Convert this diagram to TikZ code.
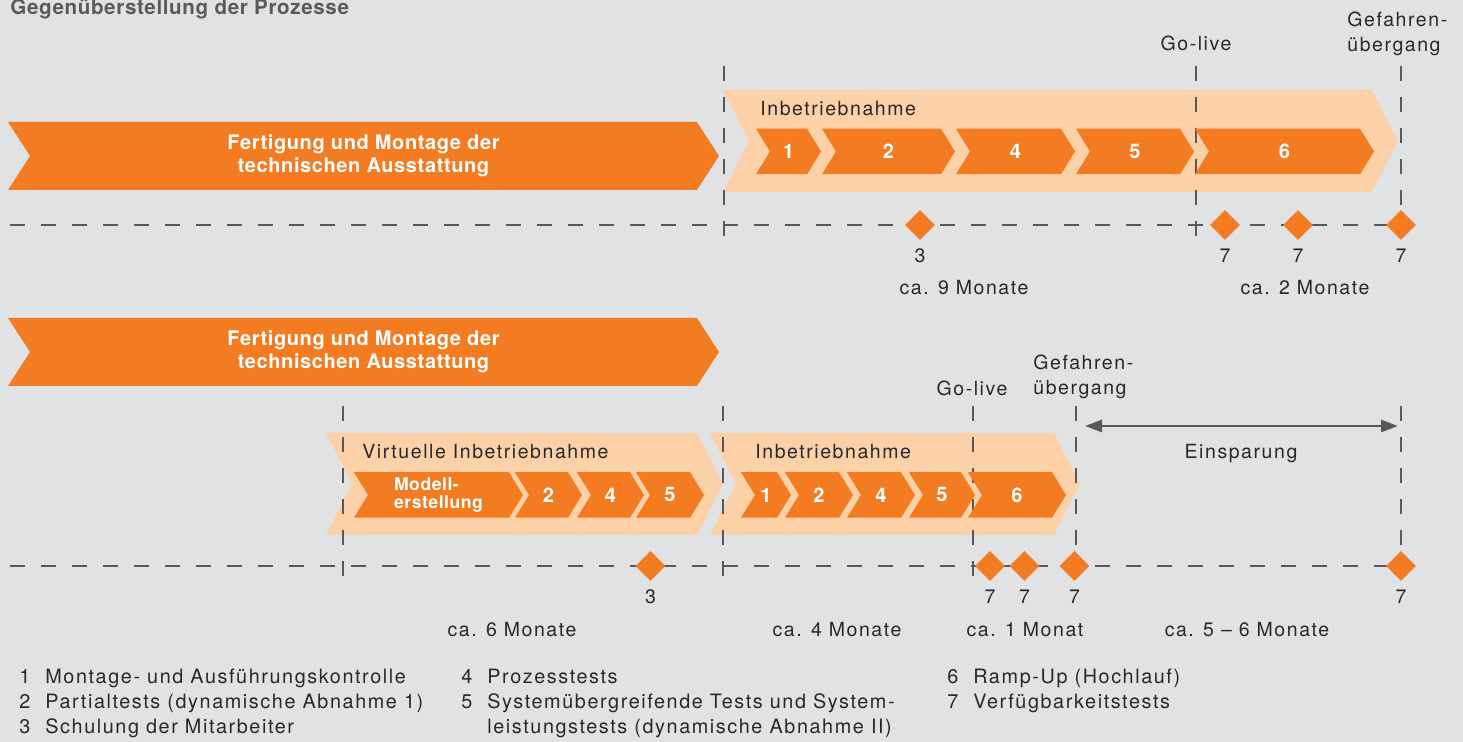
\documentclass[tikz,border=0pt]{standalone}
\usepackage{fontspec}
\setmainfont{TeX Gyre Heros}[LetterSpace=8]
\newfontfamily\chevfont{TeX Gyre Heros}[LetterSpace=3]
\usepackage{tikz}
\usetikzlibrary{arrows.meta, positioning, shapes.geometric, shapes.symbols}
\definecolor{ibn_orange}{RGB}{243, 123, 33}
\definecolor{ibn_peach}{RGB}{253, 209, 168}
\definecolor{ibn_bg}{RGB}{225, 226, 228}
\definecolor{ibn_line}{RGB}{88, 88, 90}
\definecolor{ibn_text}{RGB}{40, 40, 40}
\definecolor{ibn_title}{RGB}{90, 90, 92}

\begin{document}
\begin{tikzpicture}[
    x=0.5pt, y=-0.5pt,
    txt/.style={text=ibn_text, inner sep=0pt,
                font=\fontsize{9.75}{12.5}\selectfont},
    mainbar/.style={signal, signal to=east, signal from=west,
                    signal pointer angle=114, fill=ibn_orange, inner sep=0pt,
                    minimum width=355.5pt, minimum height=34pt,
                    text=white, align=center,
                    font=\chevfont\bfseries\fontsize{10}{11.7}\selectfont},
    phasebar/.style={signal, signal to=east, signal from=west,
                     signal pointer angle=126, fill=ibn_peach, inner sep=0pt,
                     minimum height=51pt},
    stepbox/.style={signal, signal to=east, signal from=west,
                    signal pointer angle=117, fill=ibn_orange, inner sep=0pt,
                    minimum height=22.75pt, text=white,
                    font=\chevfont\bfseries\fontsize{10}{11}\selectfont},
    milestone/.style={diamond, fill=ibn_orange, inner sep=0pt,
                      minimum size=15pt},
    tline/.style={draw=ibn_line, line width=1.4pt,
                  dash pattern=on 7.5pt off 8pt},
    savearrow/.style={{Triangle[length=8.5pt, width=6pt]}-{Triangle[length=8.5pt, width=6pt]},
                      draw=ibn_line, fill=ibn_line, line width=1.4pt},
    legend/.style={txt, anchor=north west,
                   font=\fontsize{9.9}{12.5}\selectfont},
  ]
  \fill[ibn_bg] (0,0) rectangle (1463,742);
  \useasboundingbox (0,0) rectangle (1463,742);

  \node[anchor=base west, inner sep=0pt, text=ibn_title,
        font=\chevfont\bfseries\fontsize{10.3}{12}\selectfont]
    (title) at (10,15) {Gegenüberstellung der Prozesse};

  % --- Ablauf ohne virtuelle Inbetriebnahme
  \node[mainbar] (fert1) at (363.5,156)
    {Fertigung und Montage der\\technischen Ausstattung};
  \node[phasebar, minimum width=337.5pt] (inb1) at (1060.5,141) {};
  \node[txt, anchor=west] (inb1lbl) at (760,108.5) {Inbetriebnahme};

  \foreach \n/\x in {a/724, b/1196, c/1401} {
    \coordinate (top\n) at (\x,66);
    \coordinate (bot\n) at (\x,242);
    \draw[tline] (top\n) -- (bot\n);
  }

  \node[stepbox, minimum width=32.5pt] (s1) at (788.5,151.5) {1};
  \node[stepbox, minimum width=66.5pt] (s2) at (888.5,151.5) {2};
  \node[stepbox, minimum width=59.5pt] (s4) at (1015.5,151.5) {4};
  \node[stepbox, minimum width=59pt]   (s5) at (1135,151.5) {5};
  \node[stepbox, minimum width=89.5pt] (s6) at (1284.5,151.5) {6};

  \coordinate (tlA0) at (10,225);
  \coordinate (tlA1) at (1401,225);
  \draw[tline] (tlA0) -- (tlA1);

  \node[milestone] (dA1) at (920,225) {};
  \node[milestone] (dA2) at (1225,225) {};
  \node[milestone] (dA3) at (1298,225) {};
  \node[milestone] (dA4) at (1401,225) {};
  \node[txt, below=4pt of dA1] {3};
  \node[txt, below=4pt of dA2] {7};
  \node[txt, below=4pt of dA3] {7};
  \node[txt, below=4pt of dA4] {7};

  \node[txt] (durA1) at (964,287.5) {ca. 9 Monate};
  \node[txt] (durA2) at (1305,287.5) {ca. 2 Monate};

  \node[txt] (golA) at (1196,43.5) {Go-live};
  \node[txt, anchor=north west, align=left] (gefA) at (1347,12)
    {Gefahren-\\übergang};

  % --- Ablauf mit virtueller Inbetriebnahme
  \node[mainbar] (fert2) at (363.5,352)
    {Fertigung und Montage der\\technischen Ausstattung};
  \node[phasebar, minimum width=198.5pt] (virt) at (524.5,484) {};
  \node[phasebar, minimum width=185pt] (inb2) at (895,484) {};
  \node[txt, anchor=west] (virtlbl) at (362,451.5) {Virtuelle Inbetriebnahme};
  \node[txt, anchor=west] (inb2lbl) at (755,451.5) {Inbetriebnahme};

  \foreach \n/\x in {d/343, e/723, f/973, g/1076, h/1401} {
    \coordinate (top\n) at (\x,406);
    \coordinate (bot\n) at (\x,582);
    \draw[tline] (top\n) -- (bot\n);
  }

  \node[stepbox, minimum width=84.5pt, align=left,
        font=\chevfont\bfseries\fontsize{8.8}{8.6}\selectfont]
    (mod) at (438.5,495) {Modell-\\erstellung};
  \node[stepbox, minimum width=33.5pt] (v2) at (548.5,495) {2};
  \node[stepbox, minimum width=33.5pt] (v4) at (610.5,495) {4};
  \node[stepbox, minimum width=34pt]   (v5) at (670,495) {5};
  \node[stepbox, minimum width=25pt]   (r1) at (766,495) {1};
  \node[stepbox, minimum width=34pt]   (r2) at (819,495) {2};
  \node[stepbox, minimum width=34pt]   (r4) at (881,495) {4};
  \node[stepbox, minimum width=33pt]   (r5) at (942,495) {5};
  \node[stepbox, minimum width=49pt]   (r6) at (1017,495) {6};

  \coordinate (tlB0) at (10,566);
  \coordinate (tlB1) at (1401,566);
  \draw[tline] (tlB0) -- (tlB1);

  \node[milestone] (dB1) at (650.5,566) {};
  \node[milestone] (dB2) at (990,566) {};
  \node[milestone] (dB3) at (1024.5,566) {};
  \node[milestone] (dB4) at (1074.5,566) {};
  \node[milestone] (dB5) at (1401,566) {};
  \node[txt, below=4pt of dB1] {3};
  \node[txt, below=4pt of dB2] {7};
  \node[txt, below=4pt of dB3] {7};
  \node[txt, below=4pt of dB4] {7};
  \node[txt, below=4pt of dB5] {7};

  \node[txt] (durB1) at (512,629.5) {ca. 6 Monate};
  \node[txt] (durB2) at (837,629.5) {ca. 4 Monate};
  \node[txt] (durB3) at (1025,629.5) {ca. 1 Monat};
  \node[txt] (durB4) at (1247,629.5) {ca. 5 -- 6 Monate};

  \node[txt] (golB) at (972,388) {Go-live};
  \node[txt, anchor=north west, align=left] (gefB) at (1033,355)
    {Gefahren-\\übergang};

  \coordinate (savL) at (1085,426);
  \coordinate (savR) at (1398,426);
  \draw[savearrow] (savL) -- (savR);
  \node[txt, anchor=base] (sav) at (1241,459) {Einsparung};

  % --- Legende
  \node[legend] (leg1) at (19,665.5) {%
    \begin{tabular}{@{}l@{\hspace{7.5pt}}l@{}}
      1 & Montage- und Ausführungskontrolle\\
      2 & Partialtests (dynamische Abnahme 1)\\
      3 & Schulung der Mitarbeiter
    \end{tabular}};
  \node[legend] (leg2) at (461,665.5) {%
    \begin{tabular}{@{}l@{\hspace{7.5pt}}l@{}}
      4 & Prozesstests\\
      5 & Systemübergreifende Tests und System-\\
        & leistungstests (dynamische Abnahme II)
    \end{tabular}};
  \node[legend] (leg3) at (947,665.5) {%
    \begin{tabular}{@{}l@{\hspace{7.5pt}}l@{}}
      6 & Ramp-Up (Hochlauf)\\
      7 & Verfügbarkeitstests
    \end{tabular}};
\end{tikzpicture}
\end{document}
